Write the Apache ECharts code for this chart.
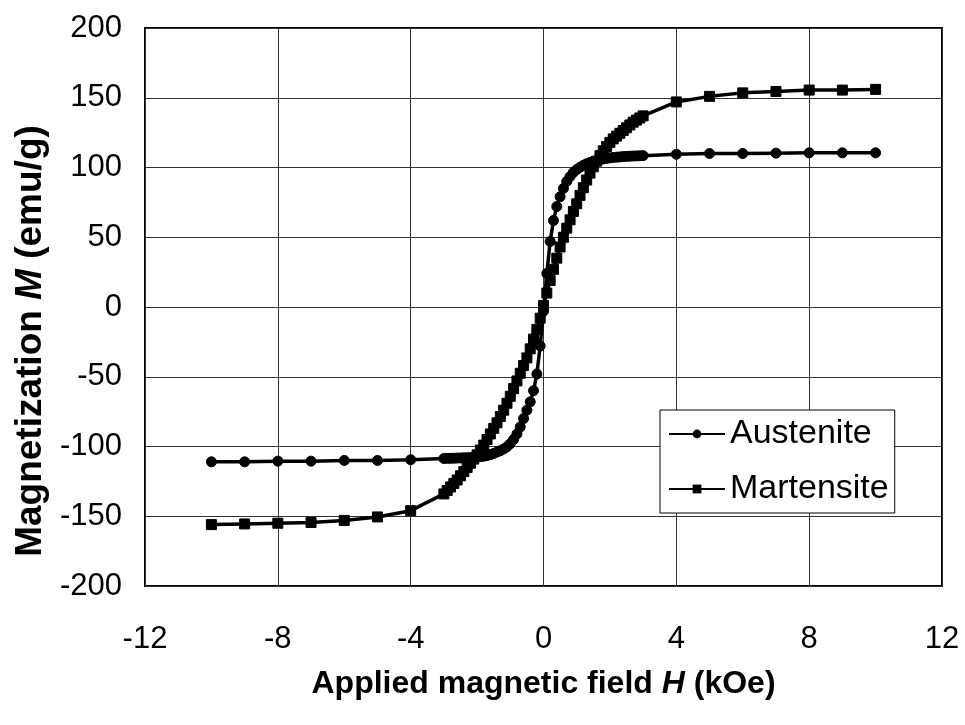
<!DOCTYPE html>
<html>
<head>
<meta charset="utf-8">
<script src="https://cdn.jsdelivr.net/npm/echarts@6/dist/echarts.min.js"></script>
<style>
html,body{margin:0;padding:0;background:#fff;}
#c{width:965px;height:725px;}
</style>
</head>
<body>
<div id="c"></div>
<script>
// Applied magnetic field H (kOe)
var fieldH = [-10,-9,-8,-7,-6,-5,-4,
  -3.0,-2.9,-2.8,-2.7,-2.6,-2.5,-2.4,-2.3,-2.2,-2.1,-2.0,-1.9,-1.8,-1.7,-1.6,-1.5,-1.4,-1.3,-1.2,-1.1,
  -1.0,-0.9,-0.8,-0.7,-0.6,-0.5,-0.4,-0.3,-0.2,-0.1,0,
  0.1,0.2,0.3,0.4,0.5,0.6,0.7,0.8,0.9,1.0,1.1,1.2,1.3,1.4,1.5,1.6,1.7,1.8,1.9,2.0,
  2.1,2.2,2.3,2.4,2.5,2.6,2.7,2.8,2.9,3.0,
  4,5,6,7,8,9,10];

// Magnetization M (emu/g)
var austeniteM = [-111,-111,-110.5,-110.5,-110,-110,-109.5,
  -108.6,-108.5,-108.5,-108.4,-108.3,-108.2,-108.1,-108,-107.9,-107.8,-107.6,-107.3,-107,-106.5,-105.8,-105,-104,-103,-101.8,-100.2,
  -98,-95,-91,-86,-80,-74,-68,-60,-48,-28,-3,
  24,47,62,72,79,85,90,93.5,96.5,98.5,100.2,101.6,102.7,103.6,104.4,105,105.6,106.1,106.5,106.9,
  107.2,107.4,107.6,107.8,108,108.1,108.2,108.3,108.4,108.5,
  109.5,110,110,110.3,110.5,110.5,110.5];

var martensiteM = [-156,-155.5,-155,-154.5,-153,-150.5,-146,
  -134,-131.5,-129,-126.5,-124,-121,-118,-115,-112,-109,-106,-102.5,-99,-95,-91,-87,-83,-78.5,-74,-69,
  -64,-58.5,-53,-47.5,-42,-36.5,-30,-23,-16,-8,1,
  10,19,27,35,43,50,56.5,62.5,68.5,74,80,85.5,91,96,100.5,104.5,108.5,112,115,118,
  120.5,122.5,124.5,126.5,128.5,130.5,132.5,134,135.5,137,
  147,151,153.5,154.5,155.5,155.5,156];

var seriesNames = ['Austenite', 'Martensite'];

function pairs(xs, ys) {
  var out = [];
  for (var i = 0; i < xs.length; i++) out.push([xs[i], ys[i]]);
  return out;
}

var FONT = 'Arial, "Liberation Sans", Helvetica, sans-serif';
var chart = echarts.init(document.getElementById('c'), null, {renderer: 'canvas'});
chart.setOption({
  animation: false,
  backgroundColor: '#ffffff',
  textStyle: {fontFamily: FONT, color: '#000'},
  grid: {left: 145, right: 23, top: 28, bottom: 139, show: true, borderColor: '#000', borderWidth: 2, backgroundColor: 'transparent'},
  legend: {
    data: seriesNames,
    orient: 'vertical',
    left: 660, top: 410,
    padding: [6, 6, 6, 8],
    itemWidth: 56, itemHeight: 11, itemGap: 19,
    borderColor: '#000', borderWidth: 1,
    backgroundColor: '#fff',
    textStyle: {fontFamily: FONT, fontSize: 34, color: '#000', lineHeight: 36}
  },
  xAxis: {
    type: 'value', min: -12, max: 12, interval: 4,
    axisLine: {show: false}, axisTick: {show: false},
    splitLine: {show: true, lineStyle: {color: '#333', width: 1}},
    axisLabel: {fontSize: 31, color: '#000', margin: 38, fontFamily: FONT},
    name: '{b|Applied magnetic field }{bi|H}{b| (kOe)}',
    nameLocation: 'middle', nameGap: 82,
    nameTextStyle: {
      rich: {
        b: {fontSize: 32, fontWeight: 'bold', color: '#000', fontFamily: FONT},
        bi: {fontSize: 32, fontWeight: 'bold', fontStyle: 'italic', color: '#000', fontFamily: FONT}
      }
    }
  },
  yAxis: {
    type: 'value', min: -200, max: 200, interval: 50,
    axisLine: {show: false}, axisTick: {show: false},
    splitLine: {show: true, lineStyle: {color: '#333', width: 1}},
    axisLabel: {fontSize: 31, color: '#000', margin: 23, fontFamily: FONT},
    name: '{b|Magnetization }{bi|M}{b| (emu/g)}',
    nameLocation: 'middle', nameGap: 90,
    nameTextStyle: {
      padding: [0, 68, 0, 0],
      rich: {
        b: {fontSize: 37, fontWeight: 'bold', color: '#000', fontFamily: FONT},
        bi: {fontSize: 37, fontWeight: 'bold', fontStyle: 'italic', color: '#000', fontFamily: FONT}
      }
    }
  },
  series: [
    {
      name: seriesNames[0], type: 'line', data: pairs(fieldH, austeniteM),
      symbol: 'circle', symbolSize: 10, showAllSymbol: true,
      lineStyle: {color: '#000', width: 3.5},
      itemStyle: {color: '#000', borderColor: '#000'}
    },
    {
      name: seriesNames[1], type: 'line', data: pairs(fieldH, martensiteM),
      symbol: 'rect', symbolSize: 10, showAllSymbol: true,
      lineStyle: {color: '#000', width: 3.5},
      itemStyle: {color: '#000', borderColor: '#000'}
    }
  ]
});
</script>
</body>
</html>
